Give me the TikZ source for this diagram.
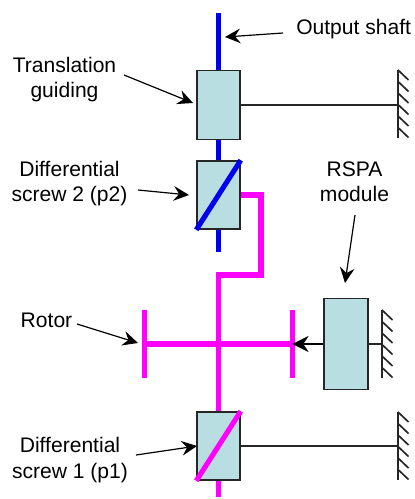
\documentclass[tikz,border=0pt]{standalone}
\usepackage{fontspec}
\setmainfont{Liberation Sans}
\usepackage{tikz}
\usetikzlibrary{arrows.meta}
\definecolor{boxcol}{RGB}{184,222,225}
\definecolor{shaftcol}{RGB}{0,0,240}
\definecolor{rotorcol}{RGB}{255,0,255}

\begin{document}
\begin{tikzpicture}[x=0.75pt, y=-0.75pt,
  bx/.style={rectangle, draw=black!85, fill=boxcol, line width=1.2pt, inner sep=0pt},
  lbl/.style={align=center, inner sep=0pt, font=\fontsize{15.8}{18.9}\selectfont},
  ar/.style={-{Stealth[length=11.5pt, width=11pt, inset=4pt]}, line width=0.9pt},
  blu/.style={shaftcol, line width=3.8pt},
  mag/.style={rotorcol, line width=3.8pt},
  lnk/.style={black!85, line width=1.25pt},
]
\useasboundingbox (0,0) rectangle (414,499);

% boxes
\node[bx, minimum width=32.2pt, minimum height=51.7pt] (guide)  at (218.5,105) {};
\node[bx, minimum width=32.2pt, minimum height=51pt]   (screw2) at (218.5,195) {};
\node[bx, minimum width=32.2pt, minimum height=51pt]   (screw1) at (218.5,446) {};
\node[bx, minimum width=33pt,   minimum height=68.2pt] (rspa)   at (346,344) {};

% free ends
\coordinate (shafttop) at (218.5,13);
\coordinate (shaftend) at (218.5,252);
\coordinate (rotorend) at (218.5,497);
\coordinate (jog1)     at (261,195);
\coordinate (jog2)     at (261,275);
\coordinate (jog3)     at (218.5,275);
\coordinate (diskL)    at (144.5,344);
\coordinate (diskR)    at (292.5,344);
\coordinate (gndA)     at (398,105);
\coordinate (gndB)     at (382,344);
\coordinate (gndC)     at (398,446);

% shaft
\draw[blu] (shafttop) -- (guide.north);
\draw[blu] (guide.south) -- (screw2.north);
\draw[blu] (screw2.south) -- (shaftend);
\draw[blu] (screw2.south west) -- (screw2.north east);

% rotor
\draw[mag] (screw2.east |- jog1) -- (jog1) -- (jog2) -- (jog3) -- (screw1.north);
\draw[mag] (diskL) -- (diskR);
\draw[mag] (144.5,310) -- (144.5,378);
\draw[mag] (292.5,310) -- (292.5,378);
\draw[mag] (screw1.south) -- (rotorend);
\draw[mag] (screw1.south west) -- (screw1.north east);

% frame
\draw[lnk] (guide.east) -- (gndA);
\draw[lnk] (screw1.east) -- (gndC);
\draw[lnk] (rspa.east) -- (gndB);
\draw[black, line width=1.6pt, -{Stealth[length=12pt, width=12pt]}] (rspa.west) -- (diskR);
\foreach \gx/\gy in {398/70, 382/310, 398/412} {
  \draw[lnk, line width=1.5pt] (\gx,\gy) -- (\gx,\gy+68);
  \foreach \k in {0,...,5}
    \draw[lnk] (\gx,\gy+\k*11.5) -- (\gx+10.5,\gy+\k*11.5+10);
}

% labels
\node[lbl, anchor=west] (lbout) at (296,29) {Output shaft};
\node[lbl] (lbguide) at (64.5,79.5) {Translation\\guiding};
\node[lbl] (lbscr2)  at (69.5,183.5) {Differential\\screw 2 (p2)};
\node[lbl] (lbrot)   at (46.5,320) {Rotor};
\node[lbl] (lbrspa)  at (354.5,182) {RSPA\\module};
\node[lbl] (lbscr1)  at (70,460) {Differential\\screw 1 (p1)};

\draw[ar] (283,33) -- (225,37);
\draw[ar] (124,75) -- (193,103);
\draw[ar] (138,190) -- (189,195);
\draw[ar] (77,324) -- (138,343);
\draw[ar] (355,215) -- (345,283);
\draw[ar] (136,455) -- (197,446);
\end{tikzpicture}
\end{document}
